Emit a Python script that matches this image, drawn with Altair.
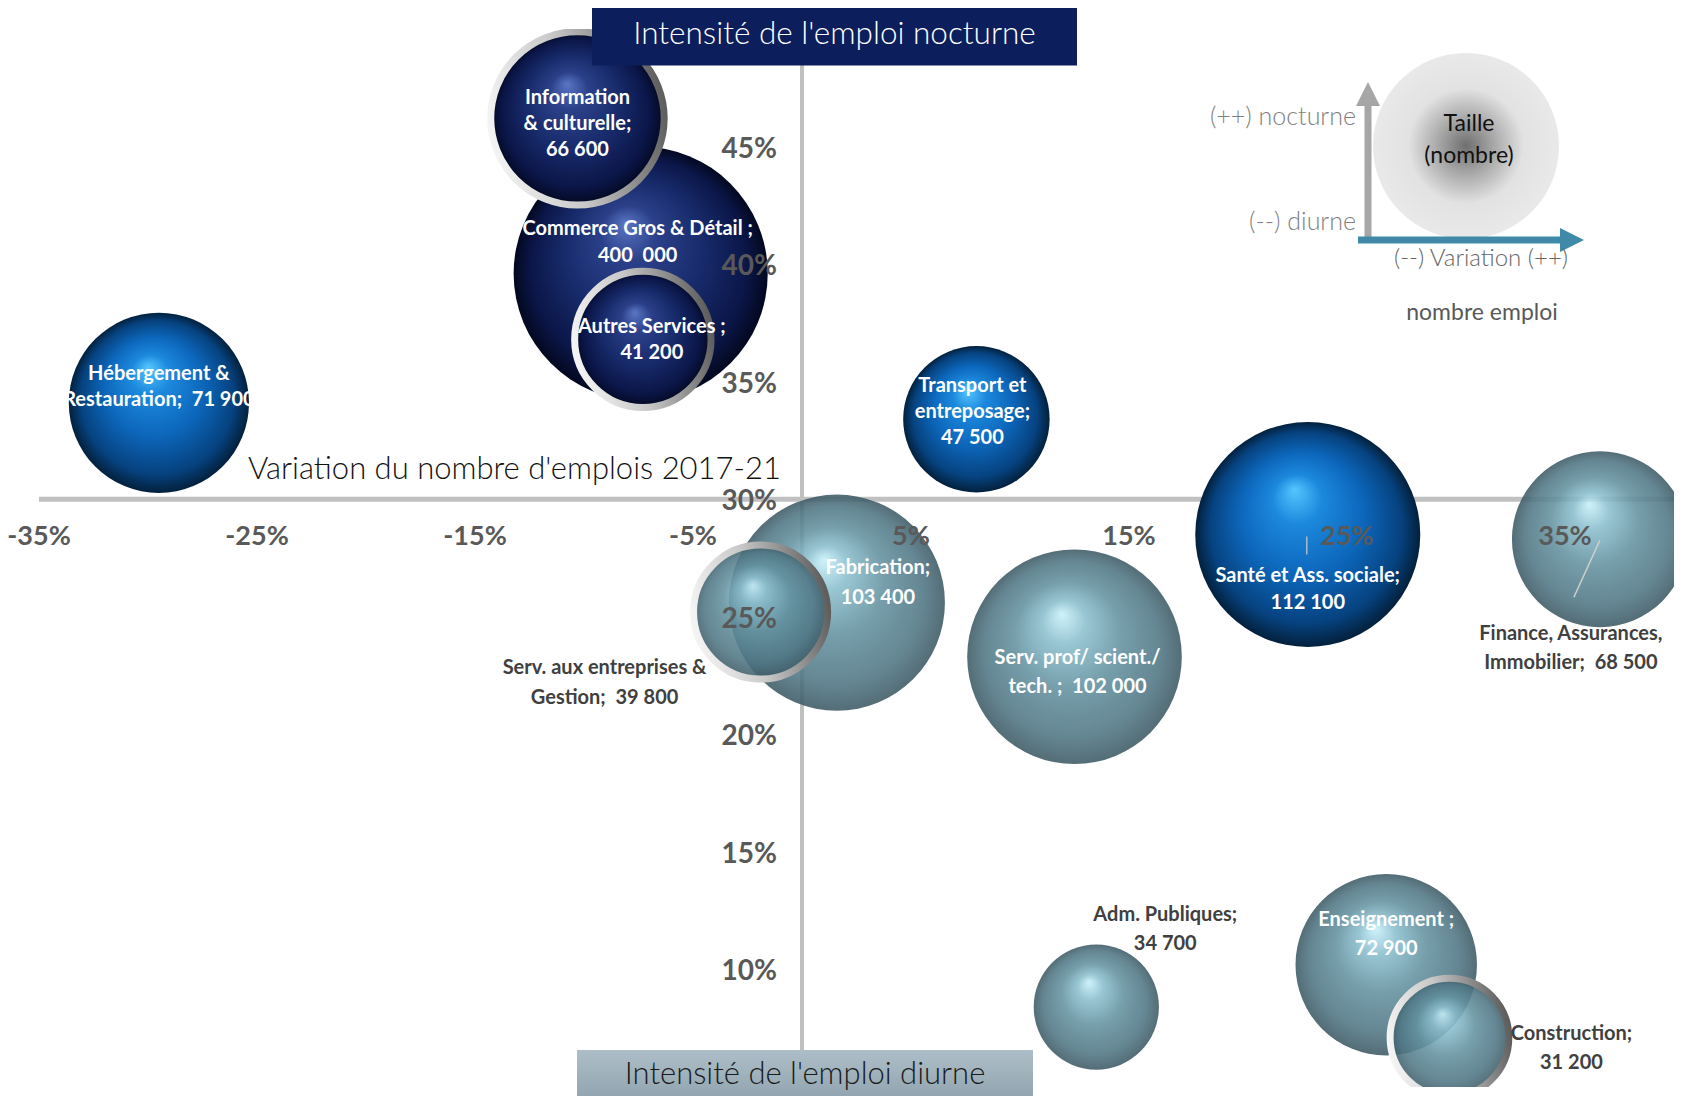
import altair as alt
import pandas as pd

# ---------------- data ----------------
NB = "\u00a0"  # keeps the double spaces of the original labels
secteurs = ["Information & culturelle", "Commerce Gros & Détail", "Autres Services",
            "Hébergement & Restauration", "Transport et entreposage", "Santé et Ass. sociale",
            "Finance, Assurances, Immobilier", "Fabrication", "Serv. aux entreprises & Gestion",
            "Serv. prof/ scient./ tech.", "Adm. Publiques", "Enseignement", "Construction"]
etiquettes = ["Information\n& culturelle;\n66 600", "Commerce Gros & Détail ;\n400" + NB + " 000",
              "Autres Services ;\n41 200", "Hébergement &\nRestauration;" + NB + " 71 900",
              "Transport et\nentreposage;\n47 500", "Santé et Ass. sociale;\n112 100",
              "Finance, Assurances,\nImmobilier;" + NB + " 68 500", "Fabrication;\n103 400",
              "Serv. aux entreprises &\nGestion;" + NB + " 39 800",
              "Serv. prof/ scient./\ntech. ;" + NB + " 102 000",
              "Adm. Publiques;\n34 700", "Enseignement ;\n72 900", "Construction;\n31 200"]
variation = [-10.3, -7.4, -7.3, -29.5, 8.0, 23.2, 36.6, 1.6, -1.9, 12.5, 13.5, 26.8, 29.7]
nocturne = [46.2, 39.6, 36.8, 34.1, 33.4, 28.5, 28.3, 25.6, 25.2, 23.3, 8.4, 10.2, 7.1]
emplois = [66600, 400000, 41200, 71900, 47500, 112100, 68500, 103400, 39800, 102000, 34700, 72900, 31200]
taille_bulle = [66600, 143000, 41200, 71900, 47500, 112100, 68500, 103400, 39800, 102000, 34700, 72900, 31200]
groupe = ["marine", "marine", "marine", "bleu", "bleu", "bleu", "sarcelle", "sarcelle",
          "sarcelle", "sarcelle", "sarcelle", "sarcelle", "sarcelle"]
anneau = [True, False, True, False, False, False, False, False, True, False, False, False, True]
ticks_x = [-35, -25, -15, -5, 5, 15, 25, 35]
ticks_y = [10, 15, 20, 25, 30, 35, 40, 45]
domaine_x = [-35, 40]
domaine_y = [5, 50]
croisement_y = 30
croisement_x = 0

# ---------------- styling ----------------
W, H = 1635, 1058
FONT = "Lato"
xs = alt.Scale(domain=domaine_x, nice=False, zero=False)
ys = alt.Scale(domain=domaine_y, nice=False, zero=False)
sz = alt.Scale(domain=[0, 150000], range=[0, 67740], zero=True)


def sphere(stops, fx=0.44, fy=0.3):
    return {"gradient": "radial", "x1": fx, "y1": fy, "r1": 0, "x2": 0.5, "y2": 0.5, "r2": 0.5,
            "stops": [{"offset": o, "color": c} for o, c in stops]}


FILLS = {
    "sarcelle": sphere([(0, "#c9f1fc"), (0.2, "#8cbfce"), (0.5, "#63919f"), (0.82, "#4f7684"), (1, "#3d5964")]),
    "marine": sphere([(0, "#5b76c4"), (0.22, "#2b4089"), (0.55, "#172a6a"), (0.85, "#0b1648"), (1, "#03081f")]),
    "bleu": sphere([(0, "#55c6ff"), (0.22, "#1c89dd"), (0.55, "#0c66ba"), (0.85, "#06427f"), (1, "#03203c")]),
}
OPAC = {"sarcelle": 0.88, "marine": 1.0, "bleu": 1.0}
RING = {"gradient": "linear", "x1": 0, "y1": 0.6, "x2": 1, "y2": 0.4,
        "stops": [{"offset": 0, "color": "#f4f4f4"}, {"offset": 0.45, "color": "#c8c8c8"},
                  {"offset": 1, "color": "#5e5e5e"}]}

# label placement per sector: (dx, dy of first line, line height, colour)
WHITE, DARK = "#ffffff", "#404040"
LBL = {
    "Information & culturelle": (0, -20, 26, WHITE),
    "Commerce Gros & Détail": (-3, -45, 27, WHITE),
    "Autres Services": (9, -12, 26, WHITE),
    "Hébergement & Restauration": (0, -29, 26, WHITE),
    "Transport et entreposage": (-4, -33, 26, WHITE),
    "Santé et Ass. sociale": (0, 42, 27, WHITE),
    "Finance, Assurances, Immobilier": (-29, 95, 29, DARK),
    "Fabrication": (41, -35, 30, WHITE),
    "Serv. aux entreprises & Gestion": (-156, 56, 30, DARK),
    "Serv. prof/ scient./ tech.": (3, 1, 29, WHITE),
    "Adm. Publiques": (69, -92, 29, DARK),
    "Enseignement": (0, -45, 29, WHITE),
    "Construction": (122, -4, 29, DARK),
}

df = pd.DataFrame({"secteur": secteurs, "etiquette": etiquettes, "variation": variation,
                   "nocturne": nocturne, "emplois": emplois, "taille": taille_bulle,
                   "groupe": groupe, "anneau": anneau})
one = pd.DataFrame({"k": [0]})

X = alt.X("variation:Q", scale=xs, axis=None)
Y = alt.Y("nocturne:Q", scale=ys, axis=None)
S = alt.Size("taille:Q", scale=sz, legend=None)
O = alt.Order("taille:Q", sort="descending")

layers = []

# axis lines
axes_df = pd.DataFrame({"x1": [domaine_x[0]], "x2": [domaine_x[1]], "y0": [croisement_y],
                        "y1": [domaine_y[0]], "y2": [domaine_y[1]], "x0": [croisement_x]})
layers.append(alt.Chart(axes_df).mark_rule(color="#c0c0c0", strokeWidth=5).encode(
    x=alt.X("x1:Q", scale=xs, axis=None), x2="x2:Q", y=alt.Y("y0:Q", scale=ys, axis=None)))
layers.append(alt.Chart(axes_df).mark_rule(color="#c0c0c0", strokeWidth=4).encode(
    x=alt.X("x0:Q", scale=xs, axis=None), y=alt.Y("y1:Q", scale=ys, axis=None), y2="y2:Q"))

base = alt.Chart(df)
for g in ["sarcelle", "marine", "bleu"]:
    layers.append(base.transform_filter(alt.datum.groupe == g).mark_circle(
        fill=FILLS[g], opacity=OPAC[g], clip=True).encode(x=X, y=Y, size=S, order=O))

# silver rings
layers.append(base.transform_filter("datum.anneau").mark_point(
    shape="circle", filled=False, stroke=RING, strokeWidth=7, opacity=1, clip=True).encode(
    x=X, y=Y, size=S, order=O))

# leader lines
layers.append(base.transform_filter(alt.datum.secteur == "Santé et Ass. sociale").mark_rule(
    color="#a9bccd", strokeWidth=1.5, yOffset=2, xOffset=-1, x2Offset=-1, y2Offset=20).encode(
    x=X, y=Y, x2="variation:Q", y2="nocturne:Q"))
layers.append(base.transform_filter(alt.datum.secteur == "Finance, Assurances, Immobilier").mark_rule(
    color="#d0d0d0", strokeWidth=1.5, yOffset=1, x2Offset=-26, y2Offset=58).encode(
    x=X, y=Y, x2="variation:Q", y2="nocturne:Q"))

# tick labels
tx = pd.DataFrame({"v": ticks_x, "y0": croisement_y})
ty = pd.DataFrame({"v": ticks_y, "x0": croisement_x})
layers.append(alt.Chart(tx).transform_calculate(lab="datum.v + '%'").mark_text(
    font=FONT, fontSize=27, fontWeight="bold", color="#595959", dy=38, baseline="middle").encode(
    x=alt.X("v:Q", scale=xs, axis=None), y=alt.Y("y0:Q", scale=ys, axis=None), text="lab:N"))
layers.append(alt.Chart(ty).transform_calculate(lab="datum.v + '%'").mark_text(
    font=FONT, fontSize=28, fontWeight="bold", color="#595959", dx=-25, dy=3, align="right",
    baseline="middle").encode(
    x=alt.X("x0:Q", scale=xs, axis=None), y=alt.Y("v:Q", scale=ys, axis=None), text="lab:N"))

# bubble labels
for s in secteurs:
    dx, dy, lh, col = LBL[s]
    layers.append(base.transform_filter(alt.datum.secteur == s).mark_text(
        font=FONT, fontSize=20, fontWeight="bold", color=col, lineBreak="\n", lineHeight=lh,
        align="center", baseline="middle", dx=dx, dy=dy).encode(x=X, y=Y, text="etiquette:N"))

# x axis title
layers.append(alt.Chart(axes_df).mark_text(
    font=FONT, fontSize=31, fontWeight=300, color="#111111", align="right", baseline="middle",
    dx=-21, dy=-29, text="Variation du nombre d'emplois 2017-21").encode(
    x=alt.X("x0:Q", scale=xs, axis=None), y=alt.Y("y0:Q", scale=ys, axis=None)))

# title boxes
layers.append(alt.Chart(one).mark_rect(color="#0c1f5c").encode(
    x=alt.value(553), x2=alt.value(1038), y=alt.value(-22), y2=alt.value(36.5)))
layers.append(alt.Chart(one).mark_text(
    font=FONT, fontSize=31.5, fontWeight=300, color="#ffffff", align="center", baseline="middle",
    text="Intensité de l'emploi nocturne").encode(x=alt.value(795.5), y=alt.value(6)))
BOX_GRAD = {"gradient": "linear", "x1": 0, "y1": 0, "x2": 0, "y2": 1,
            "stops": [{"offset": 0, "color": "#aebec8"}, {"offset": 1, "color": "#8a9faa"}]}
layers.append(alt.Chart(one).mark_rect(fill=BOX_GRAD).encode(
    x=alt.value(538), x2=alt.value(994), y=alt.value(1021), y2=alt.value(1080)))
layers.append(alt.Chart(one).mark_text(
    font=FONT, fontSize=31, fontWeight=300, color="#1a1a1a", align="center", baseline="middle",
    text="Intensité de l'emploi diurne").encode(x=alt.value(766), y=alt.value(1046)))

# legend (top right)
LEG_GRAD = {"gradient": "radial", "x1": 0.5, "y1": 0.5, "r1": 0, "x2": 0.5, "y2": 0.5, "r2": 0.5,
            "stops": [{"offset": 0, "color": "#6f6f6f"}, {"offset": 0.3, "color": "#a8a8a8"},
                      {"offset": 0.62, "color": "#e2e2e2"}, {"offset": 1, "color": "#e9e9e9"}]}
layers.append(alt.Chart(one).mark_circle(fill=LEG_GRAD, opacity=1).encode(
    x=alt.value(1427), y=alt.value(117), size=alt.value(186 * 186)))
layers.append(alt.Chart(one).mark_text(
    font=FONT, fontSize=23, color="#111111", align="center", baseline="middle",
    lineBreak="\n", lineHeight=32, text="Taille\n(nombre)").encode(x=alt.value(1430), y=alt.value(95)))
layers.append(alt.Chart(one).mark_rule(color="#a6a6a6", strokeWidth=7).encode(
    x=alt.value(1329), y=alt.value(211), y2=alt.value(74)))
layers.append(alt.Chart(one).mark_point(
    shape="M-1,1L1,1L0,-1Z", filled=True, color="#a6a6a6", opacity=1).encode(
    x=alt.value(1329), y=alt.value(65), size=alt.value(576)))
layers.append(alt.Chart(one).mark_rule(color="#3e8aa8", strokeWidth=7).encode(
    x=alt.value(1319), x2=alt.value(1523), y=alt.value(211)))
layers.append(alt.Chart(one).mark_point(
    shape="M-1,-1L1,0L-1,1Z", filled=True, color="#3e8aa8", opacity=1).encode(
    x=alt.value(1533), y=alt.value(211), size=alt.value(576)))
layers.append(alt.Chart(one).mark_text(
    font=FONT, fontSize=25, fontWeight=300, color="#7f7f7f", align="right", baseline="middle",
    text="(++) nocturne").encode(x=alt.value(1317), y=alt.value(88)))
layers.append(alt.Chart(one).mark_text(
    font=FONT, fontSize=25, fontWeight=300, color="#7f7f7f", align="right", baseline="middle",
    text="(--) diurne").encode(x=alt.value(1317), y=alt.value(193)))
layers.append(alt.Chart(one).mark_text(
    font=FONT, fontSize=24, fontWeight=300, color="#666666", align="center", baseline="middle",
    text="(--) Variation (++)").encode(x=alt.value(1442), y=alt.value(230)))
layers.append(alt.Chart(one).mark_text(
    font=FONT, fontSize=23, color="#595959", align="center", baseline="middle",
    text="nombre emploi").encode(x=alt.value(1443), y=alt.value(284)))

chart = alt.layer(*layers).properties(
    width=W, height=H,
    padding={"left": 31, "top": 21, "right": 2, "bottom": 9},
    autosize=alt.AutoSizeParams(type="none"),
).configure_view(stroke=None)

chart.save("out.html", embed_options={"renderer": "svg", "actions": False})
